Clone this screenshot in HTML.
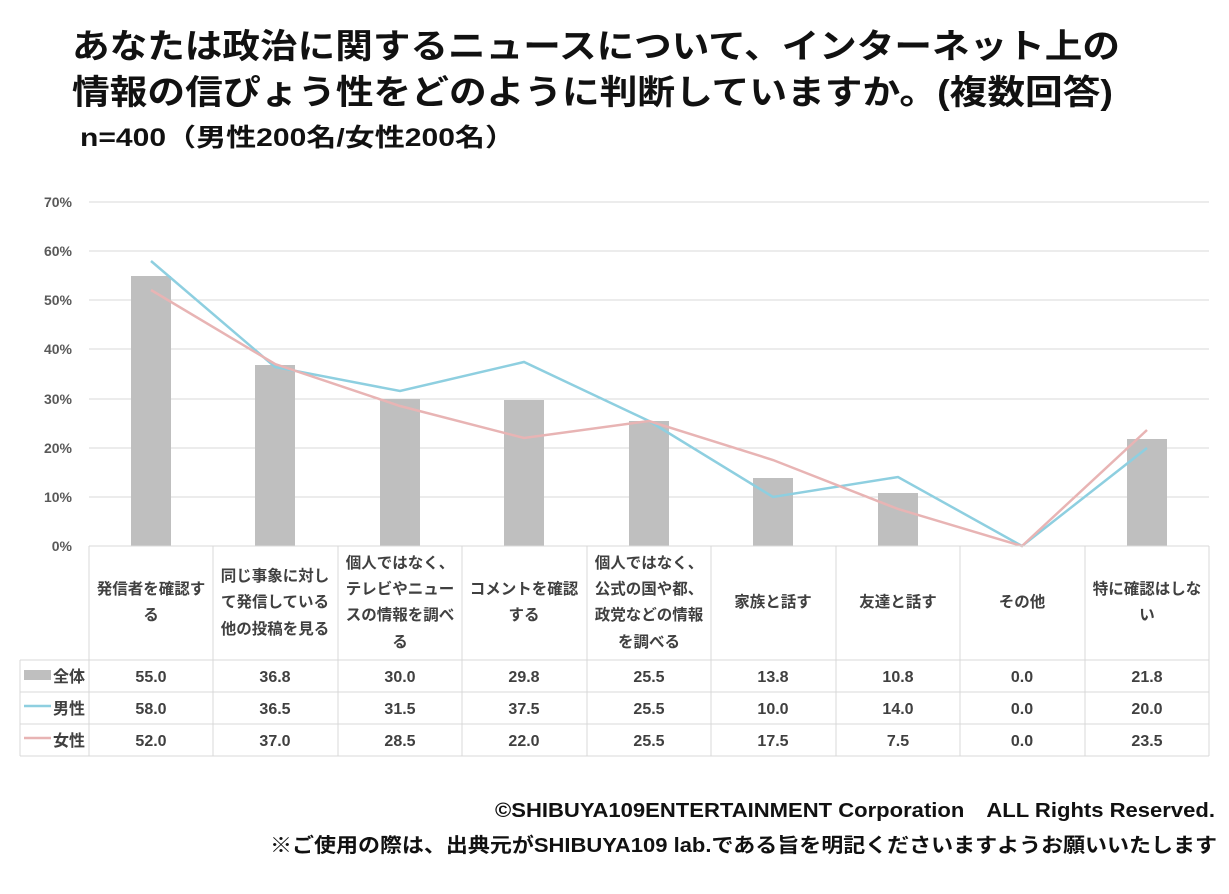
<!DOCTYPE html>
<html><head><meta charset="utf-8"><style>
body{margin:0;background:#fff;width:1229px;height:889px;overflow:hidden}
svg text{font-family:"Liberation Sans","Noto Sans CJK JP",sans-serif}
</style></head><body>
<svg width="1229" height="889" viewBox="0 0 1229 889" xmlns="http://www.w3.org/2000/svg">
<g font-weight="bold" fill="#111">
<text x="72" y="58" font-size="34" textLength="1048" lengthAdjust="spacingAndGlyphs">あなたは政治に関するニュースについて、インターネット上の</text>
<text x="72" y="104" font-size="34" textLength="1041" lengthAdjust="spacingAndGlyphs">情報の信ぴょう性をどのように判断していますか。(複数回答)</text>
<text x="80" y="146" font-size="25" textLength="435" lengthAdjust="spacingAndGlyphs">n=400（男性200名/女性200名）</text>
</g>
<g stroke="#d9d9d9" stroke-width="1">
<line x1="89" y1="202" x2="1209" y2="202"/><line x1="89" y1="251" x2="1209" y2="251"/>
<line x1="89" y1="300" x2="1209" y2="300"/><line x1="89" y1="349" x2="1209" y2="349"/>
<line x1="89" y1="399" x2="1209" y2="399"/><line x1="89" y1="448" x2="1209" y2="448"/>
<line x1="89" y1="497" x2="1209" y2="497"/>
</g>
<g font-size="14" fill="#595959" font-weight="bold" text-anchor="end">
<text x="72" y="207">70%</text><text x="72" y="256">60%</text><text x="72" y="305">50%</text>
<text x="72" y="354">40%</text><text x="72" y="404">30%</text><text x="72" y="453">20%</text>
<text x="72" y="502">10%</text><text x="72" y="551">0%</text>
</g>
<g fill="#bfbfbf">
<rect x="131" y="276" width="40" height="270"/>
<rect x="255" y="365" width="40" height="181"/>
<rect x="380" y="399" width="40" height="147"/>
<rect x="504" y="400" width="40" height="146"/>
<rect x="629" y="421" width="40" height="125"/>
<rect x="753" y="478" width="40" height="68"/>
<rect x="878" y="493" width="40" height="53"/>
<rect x="1127" y="439" width="40" height="107"/>
</g>
<polyline fill="none" stroke="#8ecfe0" stroke-width="2.5" points="151,261 275,367 400,391 524,362 649,421 773,497 898,477 1022,546 1147,448"/>
<polyline fill="none" stroke="#e8b4b4" stroke-width="2.5" points="151,290 275,364 400,406 524,438 649,421 773,460 898,509 1022,546 1147,430"/>
<g stroke="#d9d9d9" stroke-width="1" fill="none">
<line x1="89" y1="546" x2="1209" y2="546"/>
<line x1="20" y1="660" x2="1209" y2="660"/><line x1="20" y1="692" x2="1209" y2="692"/>
<line x1="20" y1="724" x2="1209" y2="724"/><line x1="20" y1="756" x2="1209" y2="756"/>
<line x1="20" y1="660" x2="20" y2="756"/>
<line x1="89" y1="546" x2="89" y2="756"/><line x1="213" y1="546" x2="213" y2="756"/>
<line x1="338" y1="546" x2="338" y2="756"/><line x1="462" y1="546" x2="462" y2="756"/>
<line x1="587" y1="546" x2="587" y2="756"/><line x1="711" y1="546" x2="711" y2="756"/>
<line x1="836" y1="546" x2="836" y2="756"/><line x1="960" y1="546" x2="960" y2="756"/>
<line x1="1085" y1="546" x2="1085" y2="756"/><line x1="1209" y1="546" x2="1209" y2="756"/>
</g>
<g font-size="15.5" fill="#404040" font-weight="bold" text-anchor="middle">
<text x="151" y="594">発信者を確認す</text><text x="151" y="620">る</text>
<text x="275" y="581">同じ事象に対し</text><text x="275" y="607">て発信している</text><text x="275" y="634">他の投稿を見る</text>
<text x="400" y="568">個人ではなく、</text><text x="400" y="594">テレビやニュー</text><text x="400" y="620">スの情報を調べ</text><text x="400" y="647">る</text>
<text x="524" y="594">コメントを確認</text><text x="524" y="620">する</text>
<text x="649" y="568">個人ではなく、</text><text x="649" y="594">公式の国や都、</text><text x="649" y="620">政党などの情報</text><text x="649" y="647">を調べる</text>
<text x="773" y="607">家族と話す</text>
<text x="898" y="607">友達と話す</text>
<text x="1022" y="607">その他</text>
<text x="1147" y="594">特に確認はしな</text><text x="1147" y="620">い</text>
</g>
<rect x="24" y="670" width="27" height="10" fill="#bfbfbf"/>
<line x1="24" y1="706" x2="51" y2="706" stroke="#8ecfe0" stroke-width="2.5"/>
<line x1="24" y1="738" x2="51" y2="738" stroke="#e8b4b4" stroke-width="2.5"/>
<g font-size="16" fill="#404040" font-weight="bold">
<text x="53" y="682">全体</text><text x="53" y="714">男性</text><text x="53" y="746">女性</text>
</g>
<g font-size="16" fill="#404040" font-weight="bold" text-anchor="middle">
<text x="151" y="682">55.0</text><text x="275" y="682">36.8</text><text x="400" y="682">30.0</text><text x="524" y="682">29.8</text><text x="649" y="682">25.5</text><text x="773" y="682">13.8</text><text x="898" y="682">10.8</text><text x="1022" y="682">0.0</text><text x="1147" y="682">21.8</text>
<text x="151" y="714">58.0</text><text x="275" y="714">36.5</text><text x="400" y="714">31.5</text><text x="524" y="714">37.5</text><text x="649" y="714">25.5</text><text x="773" y="714">10.0</text><text x="898" y="714">14.0</text><text x="1022" y="714">0.0</text><text x="1147" y="714">20.0</text>
<text x="151" y="746">52.0</text><text x="275" y="746">37.0</text><text x="400" y="746">28.5</text><text x="524" y="746">22.0</text><text x="649" y="746">25.5</text><text x="773" y="746">17.5</text><text x="898" y="746">7.5</text><text x="1022" y="746">0.0</text><text x="1147" y="746">23.5</text>
</g>
<g font-size="20" fill="#111" font-weight="bold">
<text x="495" y="817" textLength="720" lengthAdjust="spacingAndGlyphs">©SHIBUYA109ENTERTAINMENT Corporation　ALL Rights Reserved.</text>
<text x="270" y="852" textLength="947" lengthAdjust="spacingAndGlyphs">※ご使用の際は、出典元がSHIBUYA109 lab.である旨を明記くださいますようお願いいたします</text>
</g>
</svg>
</body></html>
